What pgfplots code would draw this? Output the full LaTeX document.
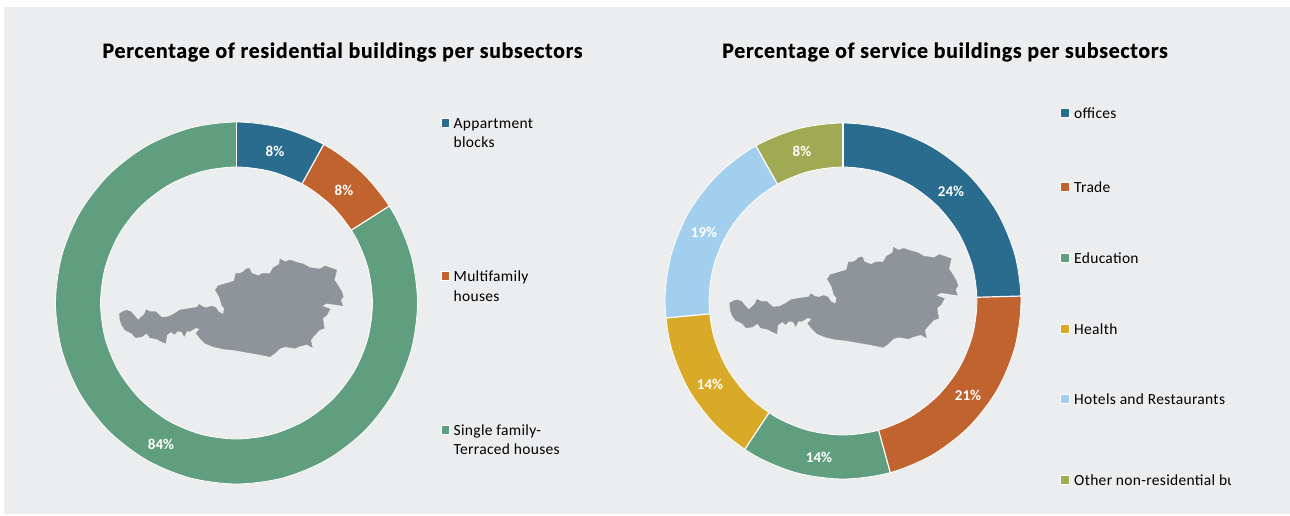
\documentclass[border=0pt]{standalone}
\usepackage{pgfplots}
\usepackage{pgfplotstable}
\usepackage{fontspec}
\pgfplotsset{compat=1.18}
\usepgfplotslibrary{polar}
\setmainfont{Carlito}
\newfontfamily\titlefont[LetterSpace=3,BoldFeatures={FakeBold=0.3}]{Carlito}
\newfontfamily\legfont[LetterSpace=2]{Carlito}
\definecolor{cblue}{HTML}{2A6C8E}
\definecolor{corange}{HTML}{C1632E}
\definecolor{cgreen}{HTML}{5F9F80}
\definecolor{cyellow}{HTML}{D9AA27}
\definecolor{clight}{HTML}{A3CFEE}
\definecolor{colive}{HTML}{A0AA52}
\definecolor{cmap}{HTML}{8E9499}
\definecolor{cbg}{HTML}{ECEDEF}
\pgfplotstableread{
x y
120 320
119.5 313.5
124 311
126.7 310.3
131 311.7
134.3 315.7
138.3 320
140 318.3
144.3 314.3
146.3 309.7
150 311.7
155.7 311.7
161.7 317.3
168.3 316.7
173.3 314.3
180 310
190 308.3
197.3 307.3
199 304.3
202.7 306.7
206.7 307.7
211.7 306
216 307.7
218.3 311.7
223.3 314.3
224.3 308.3
221.7 305
219.3 296.7
215.3 290
218.3 285.7
226.7 283.3
234 281
236 273.3
240 273.3
243 272
246 269
249.3 268.3
251.7 273.3
258.3 275.7
262.7 273.3
270 273.3
273.3 267.7
279.3 264.3
280 259
285 261.7
290 260
296.7 262.3
303.3 264
310 267.7
320 269
325 266
330 267.7
336.7 270
334.3 280
337.7 285
341.7 291.7
343.3 296.7
340.7 300
342.7 305.7
333.3 304.3
326.7 303.3
321.7 306
330 309
326.7 315
322.7 318.3
324.3 328.3
319.3 330
313.3 336.7
310.7 340
312.3 347.3
306.7 344.3
298.3 346.7
295 348.3
285 346.7
280 348.3
275 353
270 356.7
258.3 354.3
246.7 352.3
233.3 350
223.3 349
213.3 346.7
205 343.3
200 338.3
196 333.3
200 329
196 327.7
190 331.3
186.7 331
184.3 336.3
181.7 331.7
177.7 331
174.3 334.3
171 331.7
166.7 335
165.7 343.3
161.7 341.7
156.7 339
150 337.7
146.7 333.3
141.7 336.7
135.7 337.7
131.7 333.3
125 330
121.7 325
}\maptable
\pgfplotstableread{
a r
0 1
15 1
30 1
45 1
60 1
75 1
90 1
105 1
120 1
135 1
150 1
165 1
180 1
195 1
210 1
225 1
240 1
255 1
270 1
285 1
300 1
315 1
330 1
345 1
}\ringtable
\pgfplotsset{donut/.style={hide axis,scale only axis,clip=false,xmin=0,xmax=360,ymin=0,anchor=center}}
\begin{document}
\begin{tikzpicture}[x=1pt,y=1pt]
\useasboundingbox (0,0) rectangle (1290,515);
\fill[white] (0,0) rectangle (1290,515);
\fill[cbg] (4,1) rectangle (1290,508);
% left donut: centre (236.5,303) in image pixels; angles in degrees counter-clockwise from east
\begin{polaraxis}[donut,at={(236.5,212)},width=362pt,height=362pt,ymax=181]
\addplot[fill=cblue,draw=none] coordinates {(90,181)(85,181)(80,181)(75,181)(70,181)(65,181)(61.2,181)(61.2,136)(65,136)(70,136)(75,136)(80,136)(85,136)(90,136)} -- cycle;
\addplot[fill=corange,draw=none] coordinates {(61.2,181)(55,181)(50,181)(45,181)(40,181)(35,181)(32.4,181)(32.4,136)(35,136)(40,136)(45,136)(50,136)(55,136)(61.2,136)} -- cycle;
\addplot[fill=cgreen,draw=none] coordinates {(32.4,181)(25,181)(20,181)(15,181)(10,181)(5,181)(0,181)(-5,181)(-10,181)(-15,181)(-20,181)(-25,181)(-30,181)(-35,181)(-40,181)(-45,181)(-50,181)(-55,181)(-60,181)(-65,181)(-70,181)(-75,181)(-80,181)(-85,181)(-90,181)(-95,181)(-100,181)(-105,181)(-110,181)(-115,181)(-120,181)(-125,181)(-130,181)(-135,181)(-140,181)(-145,181)(-150,181)(-155,181)(-160,181)(-165,181)(-170,181)(-175,181)(-180,181)(-185,181)(-190,181)(-195,181)(-200,181)(-205,181)(-210,181)(-215,181)(-220,181)(-225,181)(-230,181)(-235,181)(-240,181)(-245,181)(-250,181)(-255,181)(-260,181)(-265,181)(-270,181)(-270,136)(-265,136)(-260,136)(-255,136)(-250,136)(-245,136)(-240,136)(-235,136)(-230,136)(-225,136)(-220,136)(-215,136)(-210,136)(-205,136)(-200,136)(-195,136)(-190,136)(-185,136)(-180,136)(-175,136)(-170,136)(-165,136)(-160,136)(-155,136)(-150,136)(-145,136)(-140,136)(-135,136)(-130,136)(-125,136)(-120,136)(-115,136)(-110,136)(-105,136)(-100,136)(-95,136)(-90,136)(-85,136)(-80,136)(-75,136)(-70,136)(-65,136)(-60,136)(-55,136)(-50,136)(-45,136)(-40,136)(-35,136)(-30,136)(-25,136)(-20,136)(-15,136)(-10,136)(-5,136)(0,136)(5,136)(10,136)(15,136)(20,136)(25,136)(32.4,136)} -- cycle;
\addplot[white,line width=0.8pt,smooth cycle] table[x=a,y expr=181*\thisrow{r}] {\ringtable};
\addplot[white,line width=0.8pt,smooth cycle] table[x=a,y expr=136*\thisrow{r}] {\ringtable};
\addplot[white,line width=1.2pt] coordinates {(90,136)(90,181)};
\addplot[white,line width=1.2pt] coordinates {(61.2,136)(61.2,181)};
\addplot[white,line width=1.2pt] coordinates {(32.4,136)(32.4,181)};
\end{polaraxis}
% right donut: centre (843,301) in image pixels
\begin{polaraxis}[donut,at={(843,214)},width=356pt,height=356pt,ymax=178]
\addplot[fill=cblue,draw=none] coordinates {(90,178)(85,178)(80,178)(75,178)(70,178)(65,178)(60,178)(55,178)(50,178)(45,178)(40,178)(35,178)(30,178)(25,178)(20,178)(15,178)(10,178)(5,178)(1.6,178)(1.6,134)(5,134)(10,134)(15,134)(20,134)(25,134)(30,134)(35,134)(40,134)(45,134)(50,134)(55,134)(60,134)(65,134)(70,134)(75,134)(80,134)(85,134)(90,134)} -- cycle;
\addplot[fill=corange,draw=none] coordinates {(1.6,178)(-5,178)(-10,178)(-15,178)(-20,178)(-25,178)(-30,178)(-35,178)(-40,178)(-45,178)(-50,178)(-55,178)(-60,178)(-65,178)(-70,178)(-74.6,178)(-74.6,134)(-70,134)(-65,134)(-60,134)(-55,134)(-50,134)(-45,134)(-40,134)(-35,134)(-30,134)(-25,134)(-20,134)(-15,134)(-10,134)(-5,134)(1.6,134)} -- cycle;
\addplot[fill=cgreen,draw=none] coordinates {(-74.6,178)(-80,178)(-85,178)(-90,178)(-95,178)(-100,178)(-105,178)(-110,178)(-115,178)(-120,178)(-123.5,178)(-123.5,134)(-120,134)(-115,134)(-110,134)(-105,134)(-100,134)(-95,134)(-90,134)(-85,134)(-80,134)(-74.6,134)} -- cycle;
\addplot[fill=cyellow,draw=none] coordinates {(-123.5,178)(-130,178)(-135,178)(-140,178)(-145,178)(-150,178)(-155,178)(-160,178)(-165,178)(-170,178)(-174.5,178)(-174.5,134)(-170,134)(-165,134)(-160,134)(-155,134)(-150,134)(-145,134)(-140,134)(-135,134)(-130,134)(-123.5,134)} -- cycle;
\addplot[fill=clight,draw=none] coordinates {(-174.5,178)(-180,178)(-185,178)(-190,178)(-195,178)(-200,178)(-205,178)(-210,178)(-215,178)(-220,178)(-225,178)(-230,178)(-235,178)(-240.7,178)(-240.7,134)(-235,134)(-230,134)(-225,134)(-220,134)(-215,134)(-210,134)(-205,134)(-200,134)(-195,134)(-190,134)(-185,134)(-180,134)(-174.5,134)} -- cycle;
\addplot[fill=colive,draw=none] coordinates {(-240.7,178)(-245,178)(-250,178)(-255,178)(-260,178)(-265,178)(-270,178)(-270,134)(-265,134)(-260,134)(-255,134)(-250,134)(-245,134)(-240.7,134)} -- cycle;
\addplot[white,line width=0.8pt,smooth cycle] table[x=a,y expr=178*\thisrow{r}] {\ringtable};
\addplot[white,line width=0.8pt,smooth cycle] table[x=a,y expr=134*\thisrow{r}] {\ringtable};
\addplot[white,line width=1.2pt] coordinates {(90,134)(90,178)};
\addplot[white,line width=1.2pt] coordinates {(1.6,134)(1.6,178)};
\addplot[white,line width=1.2pt] coordinates {(-74.6,134)(-74.6,178)};
\addplot[white,line width=1.2pt] coordinates {(-123.5,134)(-123.5,178)};
\addplot[white,line width=1.2pt] coordinates {(-174.5,134)(-174.5,178)};
\addplot[white,line width=1.2pt] coordinates {(-240.7,134)(-240.7,178)};
\end{polaraxis}
% overlay in image pixel coordinates
\begin{axis}[at={(0,0)},anchor=south west,scale only axis,width=1290pt,height=515pt,
  xmin=0,xmax=1290,ymin=0,ymax=515,y dir=reverse,hide axis,clip=false]
\addplot[cmap,fill=cmap,line width=0.3pt] table[x=x,y=y] {\maptable} -- cycle;
\addplot[cmap,fill=cmap,line width=0.3pt] table[x expr=720+(\thisrow{x}-110)*1.02,y expr=247.33+(\thisrow{y}-259)*1.024] {\maptable} -- cycle;
% titles
\node[anchor=center,font=\titlefont\bfseries\fontsize{22}{24}\selectfont] at (axis cs:342.5,52) {Percentage of residential buildings per subsectors};
\node[anchor=center,font=\titlefont\bfseries\fontsize{22}{24}\selectfont] at (axis cs:945,52) {Percentage of service buildings per subsectors};
% data labels
\foreach \px/\py/\t in {275/151/8,344/190/8,161/444/84,951/191/24,968/395/21,819/457/14,710/384/14,704/232/19,802/151/8}{
  \edef\tmp{\noexpand\node[white,font=\noexpand\bfseries\noexpand\fontsize{15}{17}\noexpand\selectfont] at (axis cs:\px,\py) {\t\noexpand\%};}\tmp
}
% legend markers
\foreach \px/\py/\c in {445.5/123/cblue,445.5/276/corange,445.5/430/cgreen,1065/113/cblue,1065/187/corange,1065/258/cgreen,1065/329/cyellow,1065/399/clight,1065/480/colive}{
  \edef\tmp{\noexpand\node[draw=white,line width=1.2pt,fill=\c,minimum size=8.5pt,inner sep=0pt] at (axis cs:\px,\py) {};}\tmp
}
% legend texts
\foreach \px/\py/\t in {453.5/125/Appartment,453.5/144/blocks,453.5/278/Multifamily,453.5/298/houses,453.5/432/Single family-,453.5/451/Terraced houses,1074/115/offices,1074/189/Trade,1074/260/Education,1074/331/Health,1074/401/Hotels and Restaurants}{
  \edef\tmp{\noexpand\node[anchor=west,inner sep=0pt,font=\noexpand\legfont\noexpand\fontsize{15.5}{18}\noexpand\selectfont] at (axis cs:\px,\py) {\noexpand\strut \t};}\tmp
}
\begin{scope}
\clip (axis cs:1070,465) rectangle (axis cs:1230,495);
\node[anchor=west,inner sep=0pt,font=\legfont\fontsize{15.5}{18}\selectfont] at (axis cs:1074,482) {\strut Other non-residential buildings};
\end{scope}
\end{axis}
\end{tikzpicture}
\end{document}
